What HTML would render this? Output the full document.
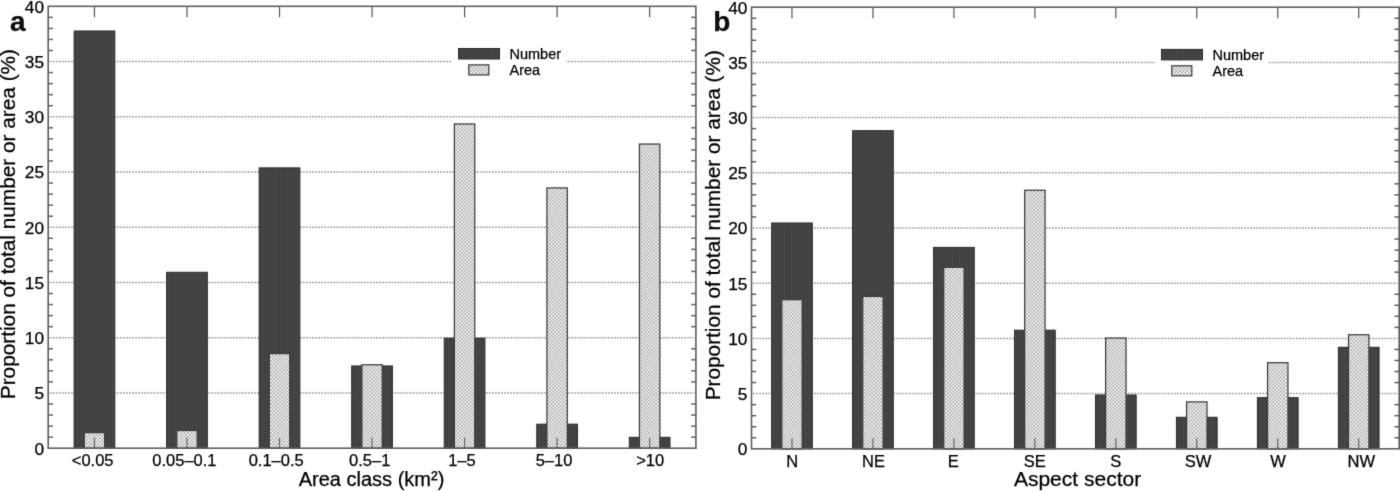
<!DOCTYPE html>
<html><head><meta charset="utf-8"><style>
html,body{margin:0;padding:0;background:#fff;}
svg{display:block;filter:grayscale(1);}
</style></head><body>
<svg width="1400" height="492" viewBox="0 0 1400 492">
<rect width="1400" height="492" fill="#fff"/>
<defs>
<filter id="bl" x="0" y="0" width="1400" height="492" filterUnits="userSpaceOnUse" color-interpolation-filters="sRGB"><feConvolveMatrix order="3" kernelMatrix="0.01134 0.08382 0.01134 0.08382 0.61935 0.08382 0.01134 0.08382 0.01134" edgeMode="duplicate" preserveAlpha="true"/></filter>
<pattern id="dark" width="3.5" height="4" patternUnits="userSpaceOnUse">
<rect width="3.5" height="4" fill="#404040"/><rect x="0" width="1" height="4" fill="#494949"/>
</pattern>
<pattern id="light" width="3.6" height="3.6" patternUnits="userSpaceOnUse">
<rect width="3.6" height="3.6" fill="#f8f8f8"/><rect x="0" y="0" width="1.8" height="1.8" fill="#adadad"/><rect x="1.8" y="1.8" width="1.8" height="1.8" fill="#adadad"/>
</pattern>
</defs>
<g filter="url(#bl)">
<rect width="1400" height="492" fill="#fff"/>
<line x1="49.70" y1="392.96" x2="694.40" y2="392.96" stroke="#a2a2a2" stroke-width="1.5" stroke-dasharray="1.9 1.15"/>
<line x1="49.70" y1="337.73" x2="694.40" y2="337.73" stroke="#a2a2a2" stroke-width="1.5" stroke-dasharray="1.9 1.15"/>
<line x1="49.70" y1="282.49" x2="694.40" y2="282.49" stroke="#a2a2a2" stroke-width="1.5" stroke-dasharray="1.9 1.15"/>
<line x1="49.70" y1="227.25" x2="694.40" y2="227.25" stroke="#a2a2a2" stroke-width="1.5" stroke-dasharray="1.9 1.15"/>
<line x1="49.70" y1="172.01" x2="694.40" y2="172.01" stroke="#a2a2a2" stroke-width="1.5" stroke-dasharray="1.9 1.15"/>
<line x1="49.70" y1="116.78" x2="694.40" y2="116.78" stroke="#a2a2a2" stroke-width="1.5" stroke-dasharray="1.9 1.15"/>
<line x1="49.70" y1="61.54" x2="694.40" y2="61.54" stroke="#a2a2a2" stroke-width="1.5" stroke-dasharray="1.9 1.15"/>
<rect x="74.11" y="30.99" width="40.7" height="417.21" fill="url(#dark)" stroke="#2c2c2c" stroke-width="1"/>
<rect x="84.26" y="432.62" width="20.4" height="15.58" fill="url(#light)" stroke="#3c3c3c" stroke-width="1.25"/>
<rect x="166.64" y="272.27" width="40.7" height="175.93" fill="url(#dark)" stroke="#2c2c2c" stroke-width="1"/>
<rect x="176.79" y="430.52" width="20.4" height="17.68" fill="url(#light)" stroke="#3c3c3c" stroke-width="1.25"/>
<rect x="259.17" y="167.87" width="40.7" height="280.33" fill="url(#dark)" stroke="#2c2c2c" stroke-width="1"/>
<rect x="269.32" y="353.63" width="20.4" height="94.57" fill="url(#light)" stroke="#3c3c3c" stroke-width="1.25"/>
<rect x="351.70" y="365.95" width="40.7" height="82.25" fill="url(#dark)" stroke="#2c2c2c" stroke-width="1"/>
<rect x="361.85" y="364.79" width="20.4" height="83.41" fill="url(#light)" stroke="#3c3c3c" stroke-width="1.25"/>
<rect x="444.23" y="338.22" width="40.7" height="109.98" fill="url(#dark)" stroke="#2c2c2c" stroke-width="1"/>
<rect x="454.38" y="123.96" width="20.4" height="324.24" fill="url(#light)" stroke="#3c3c3c" stroke-width="1.25"/>
<rect x="536.76" y="424.17" width="40.7" height="24.03" fill="url(#dark)" stroke="#2c2c2c" stroke-width="1"/>
<rect x="546.91" y="187.92" width="20.4" height="260.28" fill="url(#light)" stroke="#3c3c3c" stroke-width="1.25"/>
<rect x="629.29" y="437.32" width="40.7" height="10.88" fill="url(#dark)" stroke="#2c2c2c" stroke-width="1"/>
<rect x="639.44" y="144.06" width="20.4" height="304.14" fill="url(#light)" stroke="#3c3c3c" stroke-width="1.25"/>
<line x1="48.2" y1="437.15" x2="52.900000000000006" y2="437.15" stroke="#5f5f5f" stroke-width="1.5"/>
<line x1="691.1999999999999" y1="437.15" x2="695.9" y2="437.15" stroke="#5f5f5f" stroke-width="1.5"/>
<line x1="48.2" y1="426.11" x2="52.900000000000006" y2="426.11" stroke="#5f5f5f" stroke-width="1.5"/>
<line x1="691.1999999999999" y1="426.11" x2="695.9" y2="426.11" stroke="#5f5f5f" stroke-width="1.5"/>
<line x1="48.2" y1="415.06" x2="52.900000000000006" y2="415.06" stroke="#5f5f5f" stroke-width="1.5"/>
<line x1="691.1999999999999" y1="415.06" x2="695.9" y2="415.06" stroke="#5f5f5f" stroke-width="1.5"/>
<line x1="48.2" y1="404.01" x2="52.900000000000006" y2="404.01" stroke="#5f5f5f" stroke-width="1.5"/>
<line x1="691.1999999999999" y1="404.01" x2="695.9" y2="404.01" stroke="#5f5f5f" stroke-width="1.5"/>
<line x1="48.2" y1="381.91" x2="52.900000000000006" y2="381.91" stroke="#5f5f5f" stroke-width="1.5"/>
<line x1="691.1999999999999" y1="381.91" x2="695.9" y2="381.91" stroke="#5f5f5f" stroke-width="1.5"/>
<line x1="48.2" y1="370.87" x2="52.900000000000006" y2="370.87" stroke="#5f5f5f" stroke-width="1.5"/>
<line x1="691.1999999999999" y1="370.87" x2="695.9" y2="370.87" stroke="#5f5f5f" stroke-width="1.5"/>
<line x1="48.2" y1="359.82" x2="52.900000000000006" y2="359.82" stroke="#5f5f5f" stroke-width="1.5"/>
<line x1="691.1999999999999" y1="359.82" x2="695.9" y2="359.82" stroke="#5f5f5f" stroke-width="1.5"/>
<line x1="48.2" y1="348.77" x2="52.900000000000006" y2="348.77" stroke="#5f5f5f" stroke-width="1.5"/>
<line x1="691.1999999999999" y1="348.77" x2="695.9" y2="348.77" stroke="#5f5f5f" stroke-width="1.5"/>
<line x1="48.2" y1="326.68" x2="52.900000000000006" y2="326.68" stroke="#5f5f5f" stroke-width="1.5"/>
<line x1="691.1999999999999" y1="326.68" x2="695.9" y2="326.68" stroke="#5f5f5f" stroke-width="1.5"/>
<line x1="48.2" y1="315.63" x2="52.900000000000006" y2="315.63" stroke="#5f5f5f" stroke-width="1.5"/>
<line x1="691.1999999999999" y1="315.63" x2="695.9" y2="315.63" stroke="#5f5f5f" stroke-width="1.5"/>
<line x1="48.2" y1="304.58" x2="52.900000000000006" y2="304.58" stroke="#5f5f5f" stroke-width="1.5"/>
<line x1="691.1999999999999" y1="304.58" x2="695.9" y2="304.58" stroke="#5f5f5f" stroke-width="1.5"/>
<line x1="48.2" y1="293.53" x2="52.900000000000006" y2="293.53" stroke="#5f5f5f" stroke-width="1.5"/>
<line x1="691.1999999999999" y1="293.53" x2="695.9" y2="293.53" stroke="#5f5f5f" stroke-width="1.5"/>
<line x1="48.2" y1="271.44" x2="52.900000000000006" y2="271.44" stroke="#5f5f5f" stroke-width="1.5"/>
<line x1="691.1999999999999" y1="271.44" x2="695.9" y2="271.44" stroke="#5f5f5f" stroke-width="1.5"/>
<line x1="48.2" y1="260.39" x2="52.900000000000006" y2="260.39" stroke="#5f5f5f" stroke-width="1.5"/>
<line x1="691.1999999999999" y1="260.39" x2="695.9" y2="260.39" stroke="#5f5f5f" stroke-width="1.5"/>
<line x1="48.2" y1="249.34" x2="52.900000000000006" y2="249.34" stroke="#5f5f5f" stroke-width="1.5"/>
<line x1="691.1999999999999" y1="249.34" x2="695.9" y2="249.34" stroke="#5f5f5f" stroke-width="1.5"/>
<line x1="48.2" y1="238.30" x2="52.900000000000006" y2="238.30" stroke="#5f5f5f" stroke-width="1.5"/>
<line x1="691.1999999999999" y1="238.30" x2="695.9" y2="238.30" stroke="#5f5f5f" stroke-width="1.5"/>
<line x1="48.2" y1="216.20" x2="52.900000000000006" y2="216.20" stroke="#5f5f5f" stroke-width="1.5"/>
<line x1="691.1999999999999" y1="216.20" x2="695.9" y2="216.20" stroke="#5f5f5f" stroke-width="1.5"/>
<line x1="48.2" y1="205.16" x2="52.900000000000006" y2="205.16" stroke="#5f5f5f" stroke-width="1.5"/>
<line x1="691.1999999999999" y1="205.16" x2="695.9" y2="205.16" stroke="#5f5f5f" stroke-width="1.5"/>
<line x1="48.2" y1="194.11" x2="52.900000000000006" y2="194.11" stroke="#5f5f5f" stroke-width="1.5"/>
<line x1="691.1999999999999" y1="194.11" x2="695.9" y2="194.11" stroke="#5f5f5f" stroke-width="1.5"/>
<line x1="48.2" y1="183.06" x2="52.900000000000006" y2="183.06" stroke="#5f5f5f" stroke-width="1.5"/>
<line x1="691.1999999999999" y1="183.06" x2="695.9" y2="183.06" stroke="#5f5f5f" stroke-width="1.5"/>
<line x1="48.2" y1="160.96" x2="52.900000000000006" y2="160.96" stroke="#5f5f5f" stroke-width="1.5"/>
<line x1="691.1999999999999" y1="160.96" x2="695.9" y2="160.96" stroke="#5f5f5f" stroke-width="1.5"/>
<line x1="48.2" y1="149.92" x2="52.900000000000006" y2="149.92" stroke="#5f5f5f" stroke-width="1.5"/>
<line x1="691.1999999999999" y1="149.92" x2="695.9" y2="149.92" stroke="#5f5f5f" stroke-width="1.5"/>
<line x1="48.2" y1="138.87" x2="52.900000000000006" y2="138.87" stroke="#5f5f5f" stroke-width="1.5"/>
<line x1="691.1999999999999" y1="138.87" x2="695.9" y2="138.87" stroke="#5f5f5f" stroke-width="1.5"/>
<line x1="48.2" y1="127.82" x2="52.900000000000006" y2="127.82" stroke="#5f5f5f" stroke-width="1.5"/>
<line x1="691.1999999999999" y1="127.82" x2="695.9" y2="127.82" stroke="#5f5f5f" stroke-width="1.5"/>
<line x1="48.2" y1="105.73" x2="52.900000000000006" y2="105.73" stroke="#5f5f5f" stroke-width="1.5"/>
<line x1="691.1999999999999" y1="105.73" x2="695.9" y2="105.73" stroke="#5f5f5f" stroke-width="1.5"/>
<line x1="48.2" y1="94.68" x2="52.900000000000006" y2="94.68" stroke="#5f5f5f" stroke-width="1.5"/>
<line x1="691.1999999999999" y1="94.68" x2="695.9" y2="94.68" stroke="#5f5f5f" stroke-width="1.5"/>
<line x1="48.2" y1="83.63" x2="52.900000000000006" y2="83.63" stroke="#5f5f5f" stroke-width="1.5"/>
<line x1="691.1999999999999" y1="83.63" x2="695.9" y2="83.63" stroke="#5f5f5f" stroke-width="1.5"/>
<line x1="48.2" y1="72.58" x2="52.900000000000006" y2="72.58" stroke="#5f5f5f" stroke-width="1.5"/>
<line x1="691.1999999999999" y1="72.58" x2="695.9" y2="72.58" stroke="#5f5f5f" stroke-width="1.5"/>
<line x1="48.2" y1="50.49" x2="52.900000000000006" y2="50.49" stroke="#5f5f5f" stroke-width="1.5"/>
<line x1="691.1999999999999" y1="50.49" x2="695.9" y2="50.49" stroke="#5f5f5f" stroke-width="1.5"/>
<line x1="48.2" y1="39.44" x2="52.900000000000006" y2="39.44" stroke="#5f5f5f" stroke-width="1.5"/>
<line x1="691.1999999999999" y1="39.44" x2="695.9" y2="39.44" stroke="#5f5f5f" stroke-width="1.5"/>
<line x1="48.2" y1="28.40" x2="52.900000000000006" y2="28.40" stroke="#5f5f5f" stroke-width="1.5"/>
<line x1="691.1999999999999" y1="28.40" x2="695.9" y2="28.40" stroke="#5f5f5f" stroke-width="1.5"/>
<line x1="48.2" y1="17.35" x2="52.900000000000006" y2="17.35" stroke="#5f5f5f" stroke-width="1.5"/>
<line x1="691.1999999999999" y1="17.35" x2="695.9" y2="17.35" stroke="#5f5f5f" stroke-width="1.5"/>
<line x1="94.46" y1="6.3" x2="94.46" y2="17.3" stroke="#555" stroke-width="1.2"/>
<line x1="94.46" y1="437.7" x2="94.46" y2="448.2" stroke="#666" stroke-width="1.2"/>
<line x1="186.99" y1="6.3" x2="186.99" y2="17.3" stroke="#555" stroke-width="1.2"/>
<line x1="186.99" y1="437.7" x2="186.99" y2="448.2" stroke="#666" stroke-width="1.2"/>
<line x1="279.52" y1="6.3" x2="279.52" y2="17.3" stroke="#555" stroke-width="1.2"/>
<line x1="279.52" y1="437.7" x2="279.52" y2="448.2" stroke="#666" stroke-width="1.2"/>
<line x1="372.05" y1="6.3" x2="372.05" y2="17.3" stroke="#555" stroke-width="1.2"/>
<line x1="372.05" y1="437.7" x2="372.05" y2="448.2" stroke="#666" stroke-width="1.2"/>
<line x1="464.58" y1="6.3" x2="464.58" y2="17.3" stroke="#555" stroke-width="1.2"/>
<line x1="464.58" y1="437.7" x2="464.58" y2="448.2" stroke="#666" stroke-width="1.2"/>
<line x1="557.11" y1="6.3" x2="557.11" y2="17.3" stroke="#555" stroke-width="1.2"/>
<line x1="557.11" y1="437.7" x2="557.11" y2="448.2" stroke="#666" stroke-width="1.2"/>
<line x1="649.64" y1="6.3" x2="649.64" y2="17.3" stroke="#555" stroke-width="1.2"/>
<line x1="649.64" y1="437.7" x2="649.64" y2="448.2" stroke="#666" stroke-width="1.2"/>
<rect x="48.2" y="6.3" width="647.70" height="441.90" fill="none" stroke="#5f5f5f" stroke-width="1.6"/>
<text x="44.10" y="454.50" text-anchor="end" font-size="17.3" font-family="Liberation Sans, sans-serif" stroke="#000" stroke-width="0.25" fill="#000">0</text>
<text x="44.10" y="399.26" text-anchor="end" font-size="17.3" font-family="Liberation Sans, sans-serif" stroke="#000" stroke-width="0.25" fill="#000">5</text>
<text x="44.10" y="344.03" text-anchor="end" font-size="17.3" font-family="Liberation Sans, sans-serif" stroke="#000" stroke-width="0.25" fill="#000">10</text>
<text x="44.10" y="288.79" text-anchor="end" font-size="17.3" font-family="Liberation Sans, sans-serif" stroke="#000" stroke-width="0.25" fill="#000">15</text>
<text x="44.10" y="233.55" text-anchor="end" font-size="17.3" font-family="Liberation Sans, sans-serif" stroke="#000" stroke-width="0.25" fill="#000">20</text>
<text x="44.10" y="178.31" text-anchor="end" font-size="17.3" font-family="Liberation Sans, sans-serif" stroke="#000" stroke-width="0.25" fill="#000">25</text>
<text x="44.10" y="123.08" text-anchor="end" font-size="17.3" font-family="Liberation Sans, sans-serif" stroke="#000" stroke-width="0.25" fill="#000">30</text>
<text x="44.10" y="67.84" text-anchor="end" font-size="17.3" font-family="Liberation Sans, sans-serif" stroke="#000" stroke-width="0.25" fill="#000">35</text>
<text x="44.10" y="12.60" text-anchor="end" font-size="17.3" font-family="Liberation Sans, sans-serif" stroke="#000" stroke-width="0.25" fill="#000">40</text>
<text x="92.66" y="466.00" text-anchor="middle" font-size="16.5" font-family="Liberation Sans, sans-serif" stroke="#000" stroke-width="0.25" fill="#000">&lt;0.05</text>
<text x="184.39" y="466.00" text-anchor="middle" font-size="16.5" font-family="Liberation Sans, sans-serif" stroke="#000" stroke-width="0.25" fill="#000">0.05–0.1</text>
<text x="276.22" y="466.00" text-anchor="middle" font-size="16.5" font-family="Liberation Sans, sans-serif" stroke="#000" stroke-width="0.25" fill="#000">0.1–0.5</text>
<text x="369.75" y="466.00" text-anchor="middle" font-size="16.5" font-family="Liberation Sans, sans-serif" stroke="#000" stroke-width="0.25" fill="#000">0.5–1</text>
<text x="461.98" y="466.00" text-anchor="middle" font-size="16.5" font-family="Liberation Sans, sans-serif" stroke="#000" stroke-width="0.25" fill="#000">1–5</text>
<text x="554.01" y="466.00" text-anchor="middle" font-size="16.5" font-family="Liberation Sans, sans-serif" stroke="#000" stroke-width="0.25" fill="#000">5–10</text>
<text x="650.24" y="466.00" text-anchor="middle" font-size="16.5" font-family="Liberation Sans, sans-serif" stroke="#000" stroke-width="0.25" fill="#000">&gt;10</text>
<text x="371.55" y="486" text-anchor="middle" font-size="20" font-family="Liberation Sans, sans-serif" stroke="#000" stroke-width="0.25" fill="#000">Area class (km²)</text>
<text transform="translate(15.2,224.1) rotate(-90)" text-anchor="middle" font-size="20.8" font-family="Liberation Sans, sans-serif" stroke="#000" stroke-width="0.25" fill="#000">Proportion of total number or area (%)</text>
<text x="10.00" y="31" font-size="28" font-weight="bold" font-family="Liberation Sans, sans-serif" stroke="#000" stroke-width="0.25" fill="#0e0e0e">a</text>
<rect x="452" y="41.3" width="114" height="41" fill="#fff"/>
<rect x="458.5" y="48.5" width="41" height="10.5" fill="url(#dark)" stroke="#2c2c2c" stroke-width="1"/>
<rect x="468.8" y="64.9" width="20" height="10" fill="url(#light)" stroke="#3c3c3c" stroke-width="1.25"/>
<text x="509.5" y="58.599999999999994" font-size="14.5" font-family="Liberation Sans, sans-serif" stroke="#000" stroke-width="0.25" fill="#000">Number</text>
<text x="509.5" y="75.1" font-size="14.5" font-family="Liberation Sans, sans-serif" stroke="#000" stroke-width="0.25" fill="#000">Area</text>
<line x1="753.00" y1="393.60" x2="1397.70" y2="393.60" stroke="#a2a2a2" stroke-width="1.5" stroke-dasharray="1.9 1.15"/>
<line x1="753.00" y1="338.40" x2="1397.70" y2="338.40" stroke="#a2a2a2" stroke-width="1.5" stroke-dasharray="1.9 1.15"/>
<line x1="753.00" y1="283.20" x2="1397.70" y2="283.20" stroke="#a2a2a2" stroke-width="1.5" stroke-dasharray="1.9 1.15"/>
<line x1="753.00" y1="228.00" x2="1397.70" y2="228.00" stroke="#a2a2a2" stroke-width="1.5" stroke-dasharray="1.9 1.15"/>
<line x1="753.00" y1="172.80" x2="1397.70" y2="172.80" stroke="#a2a2a2" stroke-width="1.5" stroke-dasharray="1.9 1.15"/>
<line x1="753.00" y1="117.60" x2="1397.70" y2="117.60" stroke="#a2a2a2" stroke-width="1.5" stroke-dasharray="1.9 1.15"/>
<line x1="753.00" y1="62.40" x2="1397.70" y2="62.40" stroke="#a2a2a2" stroke-width="1.5" stroke-dasharray="1.9 1.15"/>
<rect x="771.63" y="222.98" width="40.7" height="225.82" fill="url(#dark)" stroke="#2c2c2c" stroke-width="1"/>
<rect x="781.78" y="299.65" width="20.4" height="149.15" fill="url(#light)" stroke="#3c3c3c" stroke-width="1.25"/>
<rect x="852.59" y="130.68" width="40.7" height="318.12" fill="url(#dark)" stroke="#2c2c2c" stroke-width="1"/>
<rect x="862.74" y="296.45" width="20.4" height="152.35" fill="url(#light)" stroke="#3c3c3c" stroke-width="1.25"/>
<rect x="933.56" y="247.38" width="40.7" height="201.42" fill="url(#dark)" stroke="#2c2c2c" stroke-width="1"/>
<rect x="943.71" y="267.30" width="20.4" height="181.50" fill="url(#light)" stroke="#3c3c3c" stroke-width="1.25"/>
<rect x="1014.52" y="330.18" width="40.7" height="118.62" fill="url(#dark)" stroke="#2c2c2c" stroke-width="1"/>
<rect x="1024.67" y="190.24" width="20.4" height="258.56" fill="url(#light)" stroke="#3c3c3c" stroke-width="1.25"/>
<rect x="1095.48" y="394.98" width="40.7" height="53.82" fill="url(#dark)" stroke="#2c2c2c" stroke-width="1"/>
<rect x="1105.63" y="338.07" width="20.4" height="110.73" fill="url(#light)" stroke="#3c3c3c" stroke-width="1.25"/>
<rect x="1176.44" y="417.28" width="40.7" height="31.52" fill="url(#dark)" stroke="#2c2c2c" stroke-width="1"/>
<rect x="1186.59" y="401.88" width="20.4" height="46.92" fill="url(#light)" stroke="#3c3c3c" stroke-width="1.25"/>
<rect x="1257.41" y="397.63" width="40.7" height="51.17" fill="url(#dark)" stroke="#2c2c2c" stroke-width="1"/>
<rect x="1267.56" y="362.69" width="20.4" height="86.11" fill="url(#light)" stroke="#3c3c3c" stroke-width="1.25"/>
<rect x="1338.37" y="347.29" width="40.7" height="101.51" fill="url(#dark)" stroke="#2c2c2c" stroke-width="1"/>
<rect x="1348.52" y="334.76" width="20.4" height="114.04" fill="url(#light)" stroke="#3c3c3c" stroke-width="1.25"/>
<line x1="751.5" y1="437.76" x2="756.2" y2="437.76" stroke="#5f5f5f" stroke-width="1.5"/>
<line x1="1394.5" y1="437.76" x2="1399.2" y2="437.76" stroke="#5f5f5f" stroke-width="1.5"/>
<line x1="751.5" y1="426.72" x2="756.2" y2="426.72" stroke="#5f5f5f" stroke-width="1.5"/>
<line x1="1394.5" y1="426.72" x2="1399.2" y2="426.72" stroke="#5f5f5f" stroke-width="1.5"/>
<line x1="751.5" y1="415.68" x2="756.2" y2="415.68" stroke="#5f5f5f" stroke-width="1.5"/>
<line x1="1394.5" y1="415.68" x2="1399.2" y2="415.68" stroke="#5f5f5f" stroke-width="1.5"/>
<line x1="751.5" y1="404.64" x2="756.2" y2="404.64" stroke="#5f5f5f" stroke-width="1.5"/>
<line x1="1394.5" y1="404.64" x2="1399.2" y2="404.64" stroke="#5f5f5f" stroke-width="1.5"/>
<line x1="751.5" y1="382.56" x2="756.2" y2="382.56" stroke="#5f5f5f" stroke-width="1.5"/>
<line x1="1394.5" y1="382.56" x2="1399.2" y2="382.56" stroke="#5f5f5f" stroke-width="1.5"/>
<line x1="751.5" y1="371.52" x2="756.2" y2="371.52" stroke="#5f5f5f" stroke-width="1.5"/>
<line x1="1394.5" y1="371.52" x2="1399.2" y2="371.52" stroke="#5f5f5f" stroke-width="1.5"/>
<line x1="751.5" y1="360.48" x2="756.2" y2="360.48" stroke="#5f5f5f" stroke-width="1.5"/>
<line x1="1394.5" y1="360.48" x2="1399.2" y2="360.48" stroke="#5f5f5f" stroke-width="1.5"/>
<line x1="751.5" y1="349.44" x2="756.2" y2="349.44" stroke="#5f5f5f" stroke-width="1.5"/>
<line x1="1394.5" y1="349.44" x2="1399.2" y2="349.44" stroke="#5f5f5f" stroke-width="1.5"/>
<line x1="751.5" y1="327.36" x2="756.2" y2="327.36" stroke="#5f5f5f" stroke-width="1.5"/>
<line x1="1394.5" y1="327.36" x2="1399.2" y2="327.36" stroke="#5f5f5f" stroke-width="1.5"/>
<line x1="751.5" y1="316.32" x2="756.2" y2="316.32" stroke="#5f5f5f" stroke-width="1.5"/>
<line x1="1394.5" y1="316.32" x2="1399.2" y2="316.32" stroke="#5f5f5f" stroke-width="1.5"/>
<line x1="751.5" y1="305.28" x2="756.2" y2="305.28" stroke="#5f5f5f" stroke-width="1.5"/>
<line x1="1394.5" y1="305.28" x2="1399.2" y2="305.28" stroke="#5f5f5f" stroke-width="1.5"/>
<line x1="751.5" y1="294.24" x2="756.2" y2="294.24" stroke="#5f5f5f" stroke-width="1.5"/>
<line x1="1394.5" y1="294.24" x2="1399.2" y2="294.24" stroke="#5f5f5f" stroke-width="1.5"/>
<line x1="751.5" y1="272.16" x2="756.2" y2="272.16" stroke="#5f5f5f" stroke-width="1.5"/>
<line x1="1394.5" y1="272.16" x2="1399.2" y2="272.16" stroke="#5f5f5f" stroke-width="1.5"/>
<line x1="751.5" y1="261.12" x2="756.2" y2="261.12" stroke="#5f5f5f" stroke-width="1.5"/>
<line x1="1394.5" y1="261.12" x2="1399.2" y2="261.12" stroke="#5f5f5f" stroke-width="1.5"/>
<line x1="751.5" y1="250.08" x2="756.2" y2="250.08" stroke="#5f5f5f" stroke-width="1.5"/>
<line x1="1394.5" y1="250.08" x2="1399.2" y2="250.08" stroke="#5f5f5f" stroke-width="1.5"/>
<line x1="751.5" y1="239.04" x2="756.2" y2="239.04" stroke="#5f5f5f" stroke-width="1.5"/>
<line x1="1394.5" y1="239.04" x2="1399.2" y2="239.04" stroke="#5f5f5f" stroke-width="1.5"/>
<line x1="751.5" y1="216.96" x2="756.2" y2="216.96" stroke="#5f5f5f" stroke-width="1.5"/>
<line x1="1394.5" y1="216.96" x2="1399.2" y2="216.96" stroke="#5f5f5f" stroke-width="1.5"/>
<line x1="751.5" y1="205.92" x2="756.2" y2="205.92" stroke="#5f5f5f" stroke-width="1.5"/>
<line x1="1394.5" y1="205.92" x2="1399.2" y2="205.92" stroke="#5f5f5f" stroke-width="1.5"/>
<line x1="751.5" y1="194.88" x2="756.2" y2="194.88" stroke="#5f5f5f" stroke-width="1.5"/>
<line x1="1394.5" y1="194.88" x2="1399.2" y2="194.88" stroke="#5f5f5f" stroke-width="1.5"/>
<line x1="751.5" y1="183.84" x2="756.2" y2="183.84" stroke="#5f5f5f" stroke-width="1.5"/>
<line x1="1394.5" y1="183.84" x2="1399.2" y2="183.84" stroke="#5f5f5f" stroke-width="1.5"/>
<line x1="751.5" y1="161.76" x2="756.2" y2="161.76" stroke="#5f5f5f" stroke-width="1.5"/>
<line x1="1394.5" y1="161.76" x2="1399.2" y2="161.76" stroke="#5f5f5f" stroke-width="1.5"/>
<line x1="751.5" y1="150.72" x2="756.2" y2="150.72" stroke="#5f5f5f" stroke-width="1.5"/>
<line x1="1394.5" y1="150.72" x2="1399.2" y2="150.72" stroke="#5f5f5f" stroke-width="1.5"/>
<line x1="751.5" y1="139.68" x2="756.2" y2="139.68" stroke="#5f5f5f" stroke-width="1.5"/>
<line x1="1394.5" y1="139.68" x2="1399.2" y2="139.68" stroke="#5f5f5f" stroke-width="1.5"/>
<line x1="751.5" y1="128.64" x2="756.2" y2="128.64" stroke="#5f5f5f" stroke-width="1.5"/>
<line x1="1394.5" y1="128.64" x2="1399.2" y2="128.64" stroke="#5f5f5f" stroke-width="1.5"/>
<line x1="751.5" y1="106.56" x2="756.2" y2="106.56" stroke="#5f5f5f" stroke-width="1.5"/>
<line x1="1394.5" y1="106.56" x2="1399.2" y2="106.56" stroke="#5f5f5f" stroke-width="1.5"/>
<line x1="751.5" y1="95.52" x2="756.2" y2="95.52" stroke="#5f5f5f" stroke-width="1.5"/>
<line x1="1394.5" y1="95.52" x2="1399.2" y2="95.52" stroke="#5f5f5f" stroke-width="1.5"/>
<line x1="751.5" y1="84.48" x2="756.2" y2="84.48" stroke="#5f5f5f" stroke-width="1.5"/>
<line x1="1394.5" y1="84.48" x2="1399.2" y2="84.48" stroke="#5f5f5f" stroke-width="1.5"/>
<line x1="751.5" y1="73.44" x2="756.2" y2="73.44" stroke="#5f5f5f" stroke-width="1.5"/>
<line x1="1394.5" y1="73.44" x2="1399.2" y2="73.44" stroke="#5f5f5f" stroke-width="1.5"/>
<line x1="751.5" y1="51.36" x2="756.2" y2="51.36" stroke="#5f5f5f" stroke-width="1.5"/>
<line x1="1394.5" y1="51.36" x2="1399.2" y2="51.36" stroke="#5f5f5f" stroke-width="1.5"/>
<line x1="751.5" y1="40.32" x2="756.2" y2="40.32" stroke="#5f5f5f" stroke-width="1.5"/>
<line x1="1394.5" y1="40.32" x2="1399.2" y2="40.32" stroke="#5f5f5f" stroke-width="1.5"/>
<line x1="751.5" y1="29.28" x2="756.2" y2="29.28" stroke="#5f5f5f" stroke-width="1.5"/>
<line x1="1394.5" y1="29.28" x2="1399.2" y2="29.28" stroke="#5f5f5f" stroke-width="1.5"/>
<line x1="751.5" y1="18.24" x2="756.2" y2="18.24" stroke="#5f5f5f" stroke-width="1.5"/>
<line x1="1394.5" y1="18.24" x2="1399.2" y2="18.24" stroke="#5f5f5f" stroke-width="1.5"/>
<line x1="791.98" y1="7.2" x2="791.98" y2="18.2" stroke="#555" stroke-width="1.2"/>
<line x1="791.98" y1="438.3" x2="791.98" y2="448.8" stroke="#666" stroke-width="1.2"/>
<line x1="872.94" y1="7.2" x2="872.94" y2="18.2" stroke="#555" stroke-width="1.2"/>
<line x1="872.94" y1="438.3" x2="872.94" y2="448.8" stroke="#666" stroke-width="1.2"/>
<line x1="953.91" y1="7.2" x2="953.91" y2="18.2" stroke="#555" stroke-width="1.2"/>
<line x1="953.91" y1="438.3" x2="953.91" y2="448.8" stroke="#666" stroke-width="1.2"/>
<line x1="1034.87" y1="7.2" x2="1034.87" y2="18.2" stroke="#555" stroke-width="1.2"/>
<line x1="1034.87" y1="438.3" x2="1034.87" y2="448.8" stroke="#666" stroke-width="1.2"/>
<line x1="1115.83" y1="7.2" x2="1115.83" y2="18.2" stroke="#555" stroke-width="1.2"/>
<line x1="1115.83" y1="438.3" x2="1115.83" y2="448.8" stroke="#666" stroke-width="1.2"/>
<line x1="1196.79" y1="7.2" x2="1196.79" y2="18.2" stroke="#555" stroke-width="1.2"/>
<line x1="1196.79" y1="438.3" x2="1196.79" y2="448.8" stroke="#666" stroke-width="1.2"/>
<line x1="1277.76" y1="7.2" x2="1277.76" y2="18.2" stroke="#555" stroke-width="1.2"/>
<line x1="1277.76" y1="438.3" x2="1277.76" y2="448.8" stroke="#666" stroke-width="1.2"/>
<line x1="1358.72" y1="7.2" x2="1358.72" y2="18.2" stroke="#555" stroke-width="1.2"/>
<line x1="1358.72" y1="438.3" x2="1358.72" y2="448.8" stroke="#666" stroke-width="1.2"/>
<rect x="751.5" y="7.2" width="647.70" height="441.60" fill="none" stroke="#5f5f5f" stroke-width="1.6"/>
<text x="747.40" y="455.10" text-anchor="end" font-size="17.3" font-family="Liberation Sans, sans-serif" stroke="#000" stroke-width="0.25" fill="#000">0</text>
<text x="747.40" y="399.90" text-anchor="end" font-size="17.3" font-family="Liberation Sans, sans-serif" stroke="#000" stroke-width="0.25" fill="#000">5</text>
<text x="747.40" y="344.70" text-anchor="end" font-size="17.3" font-family="Liberation Sans, sans-serif" stroke="#000" stroke-width="0.25" fill="#000">10</text>
<text x="747.40" y="289.50" text-anchor="end" font-size="17.3" font-family="Liberation Sans, sans-serif" stroke="#000" stroke-width="0.25" fill="#000">15</text>
<text x="747.40" y="234.30" text-anchor="end" font-size="17.3" font-family="Liberation Sans, sans-serif" stroke="#000" stroke-width="0.25" fill="#000">20</text>
<text x="747.40" y="179.10" text-anchor="end" font-size="17.3" font-family="Liberation Sans, sans-serif" stroke="#000" stroke-width="0.25" fill="#000">25</text>
<text x="747.40" y="123.90" text-anchor="end" font-size="17.3" font-family="Liberation Sans, sans-serif" stroke="#000" stroke-width="0.25" fill="#000">30</text>
<text x="747.40" y="68.70" text-anchor="end" font-size="17.3" font-family="Liberation Sans, sans-serif" stroke="#000" stroke-width="0.25" fill="#000">35</text>
<text x="747.40" y="13.50" text-anchor="end" font-size="17.3" font-family="Liberation Sans, sans-serif" stroke="#000" stroke-width="0.25" fill="#000">40</text>
<text x="792.28" y="466.60" text-anchor="middle" font-size="16.5" font-family="Liberation Sans, sans-serif" stroke="#000" stroke-width="0.25" fill="#000">N</text>
<text x="873.54" y="466.60" text-anchor="middle" font-size="16.5" font-family="Liberation Sans, sans-serif" stroke="#000" stroke-width="0.25" fill="#000">NE</text>
<text x="953.31" y="466.60" text-anchor="middle" font-size="16.5" font-family="Liberation Sans, sans-serif" stroke="#000" stroke-width="0.25" fill="#000">E</text>
<text x="1034.87" y="466.60" text-anchor="middle" font-size="16.5" font-family="Liberation Sans, sans-serif" stroke="#000" stroke-width="0.25" fill="#000">SE</text>
<text x="1115.83" y="466.60" text-anchor="middle" font-size="16.5" font-family="Liberation Sans, sans-serif" stroke="#000" stroke-width="0.25" fill="#000">S</text>
<text x="1198.09" y="466.60" text-anchor="middle" font-size="16.5" font-family="Liberation Sans, sans-serif" stroke="#000" stroke-width="0.25" fill="#000">SW</text>
<text x="1277.96" y="466.60" text-anchor="middle" font-size="16.5" font-family="Liberation Sans, sans-serif" stroke="#000" stroke-width="0.25" fill="#000">W</text>
<text x="1361.22" y="466.60" text-anchor="middle" font-size="16.5" font-family="Liberation Sans, sans-serif" stroke="#000" stroke-width="0.25" fill="#000">NW</text>
<text x="1077.55" y="486" text-anchor="middle" font-size="21" font-family="Liberation Sans, sans-serif" stroke="#000" stroke-width="0.25" fill="#000">Aspect sector</text>
<text transform="translate(719.6,225.2) rotate(-90)" text-anchor="middle" font-size="20.8" font-family="Liberation Sans, sans-serif" stroke="#000" stroke-width="0.25" fill="#000">Proportion of total number or area (%)</text>
<text x="713.30" y="31" font-size="28" font-weight="bold" font-family="Liberation Sans, sans-serif" stroke="#000" stroke-width="0.25" fill="#0e0e0e">b</text>
<rect x="1155" y="42.2" width="114" height="41" fill="#fff"/>
<rect x="1161.5" y="49.400000000000006" width="41" height="10.5" fill="url(#dark)" stroke="#2c2c2c" stroke-width="1"/>
<rect x="1171.8" y="65.8" width="20" height="10" fill="url(#light)" stroke="#3c3c3c" stroke-width="1.25"/>
<text x="1212.5" y="59.5" font-size="14.5" font-family="Liberation Sans, sans-serif" stroke="#000" stroke-width="0.25" fill="#000">Number</text>
<text x="1212.5" y="76.0" font-size="14.5" font-family="Liberation Sans, sans-serif" stroke="#000" stroke-width="0.25" fill="#000">Area</text>
</g>
</svg>
</body></html>
